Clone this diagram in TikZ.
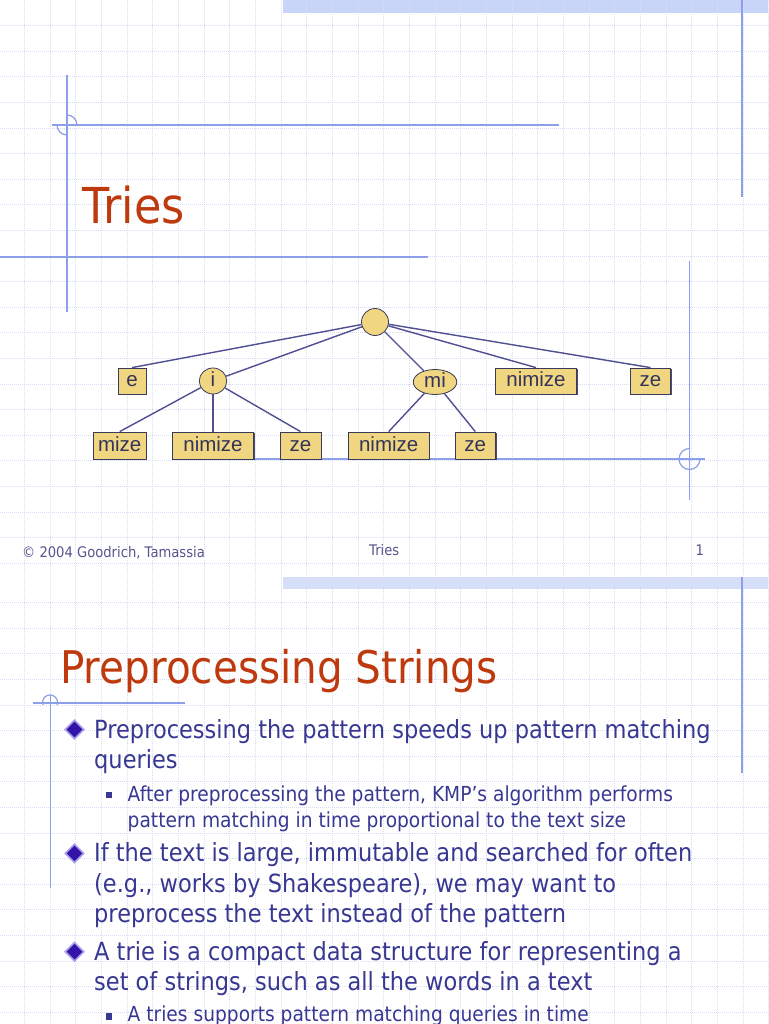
\documentclass[tikz,border=0pt]{standalone}
\usepackage{fontspec}
\setmainfont[FakeStretch=0.9]{DejaVu Sans}
\newfontfamily\treefont{Liberation Sans}
\usetikzlibrary{shapes.geometric,shadows}
\definecolor{gridc}{HTML}{D6DCF4}
\definecolor{decoc}{HTML}{8C9FE8}
\definecolor{barc}{HTML}{C9D5F8}
\definecolor{bartwo}{HTML}{D6DEF8}
\definecolor{titlec}{HTML}{BE3A0E}
\definecolor{bodyc}{HTML}{383892}
\definecolor{footc}{HTML}{55558E}
\definecolor{nodefill}{HTML}{F0D680}
\definecolor{nodeline}{HTML}{3A3A5C}
\definecolor{edgec}{HTML}{4F4F92}
\definecolor{treetext}{HTML}{34345A}
\definecolor{bulletc}{HTML}{3414A8}
\definecolor{bulletedge}{HTML}{A99EEA}
\tikzset{
  gridline/.style={gridc, line width=0.7pt, dash pattern=on 1pt off 1pt},
  deco/.style={decoc, line width=1.2pt},
  decothick/.style={decoc, line width=2pt},
  trieleaf/.style={rectangle, fill=nodefill, draw=nodeline, line width=0.8pt,
    inner sep=0pt, text height=14pt, text depth=2.5pt,
    font=\treefont\fontsize{20.5}{20}\selectfont, text=treetext,
    drop shadow={shadow xshift=1.2pt, shadow yshift=-1.2pt, fill=nodeline, opacity=0.9}},
  trieint/.style={ellipse, fill=nodefill, draw=nodeline, line width=0.8pt,
    inner sep=0pt, text height=14pt, text depth=2.5pt,
    font=\treefont\fontsize{20.5}{20}\selectfont, text=treetext},
  trieedge/.style={edgec, line width=1.4pt},
  slidetitle/.style={anchor=base west, text=titlec, font=\fontsize{45}{50}\selectfont, inner sep=0pt},
  bodyline/.style={anchor=base west, text=bodyc, font=\fontsize{25}{30}\selectfont, inner sep=0pt},
  subline/.style={anchor=base west, text=bodyc, font=\fontsize{20.7}{26}\selectfont, inner sep=0pt},
  foot/.style={anchor=base west, text=footc, font=\fontsize{14.6}{16}\selectfont, inner sep=0pt},
  bulletd/.style={diamond, fill=bulletc, draw=bulletedge, line width=1.6pt, minimum size=19pt, inner sep=0pt},
  bulletsq/.style={rectangle, fill=bodyc, minimum size=6.5pt, inner sep=0pt},
}
\begin{document}
\begin{tikzpicture}[x=1pt,y=-1pt]
\useasboundingbox (0,0) rectangle (768,1024);
\fill[white] (0,0) rectangle (768,1024);
% top bars
\fill[barc] (283,0) rectangle (768,12.7);
\fill[bartwo] (283,577) rectangle (768,589);
% grid
\foreach \k in {1,...,30} {
  \draw[gridline] ({25.67*\k-1.4},0) -- ({25.67*\k-1.4},576);
  \draw[gridline] ({25.67*\k-1.4},577) -- ({25.67*\k-1.4},1024);
}
\foreach \k in {1,...,22} \draw[gridline] (0,{25.6*\k}) -- (768,{25.6*\k});
\foreach \k in {1,...,17} \draw[gridline] (0,{577+25.6*\k}) -- (768,{577+25.6*\k});
% slide 1 decorations
\draw[deco] (742,0) -- (742,197);
\draw[decothick] (52,125) -- (559,125);
\draw[deco] (67,75) -- (67,312);
\draw[deco] (77,125) arc[start angle=0, end angle=-90, radius=10];
\draw[deco] (57,125) arc[start angle=180, end angle=90, radius=10];
\draw[decothick] (0,257) -- (428,257);
\draw[deco] (689.5,261) -- (689.5,500);
\draw[decothick] (175,459) -- (705,459);
\draw[deco] (689.5,448.5) arc[start angle=-90, end angle=-360, radius=10.5];
% slide 2 decorations
\draw[deco] (742,577) -- (742,773);
\draw[decothick] (33,702.5) -- (185,702.5);
\draw[deco] (50.5,695) -- (50.5,888);
\draw[deco] (43,705) arc[start angle=160, end angle=380, radius=7.5];
% slide 1 title
\node[slidetitle, font=\fontsize{49.5}{54}\selectfont] (t1) at (82.5,223.3) {Tries};
% tree
\node[trieint, minimum width=27pt, minimum height=27pt] (root) at (375,322) {};
\node[trieleaf, minimum width=28pt, minimum height=26pt] (e) at (132,381) {e};
\node[trieint, minimum width=27.5pt, minimum height=26pt] (i) at (213,381) {i};
\node[trieint, minimum width=43.5pt, minimum height=25pt] (mi) at (435,382) {mi};
\node[trieleaf, minimum width=81pt, minimum height=26pt] (n1) at (536,381) {nimize};
\node[trieleaf, minimum width=40.5pt, minimum height=26pt] (z1) at (650.5,381) {ze};
\node[trieleaf, minimum width=53pt, minimum height=27pt] (mize) at (119.7,445.5) {mize};
\node[trieleaf, minimum width=80.6pt, minimum height=27pt] (n2) at (213,445.5) {nimize};
\node[trieleaf, minimum width=41pt, minimum height=27pt] (z2) at (300.5,445.5) {ze};
\node[trieleaf, minimum width=80.7pt, minimum height=27pt] (n3) at (388.7,445.5) {nimize};
\node[trieleaf, minimum width=40.7pt, minimum height=27pt] (z3) at (475.3,445.5) {ze};
\draw[trieedge] (root) -- (e.north);
\draw[trieedge] (root) -- (i);
\draw[trieedge] (root) -- (mi);
\draw[trieedge] (root) -- (n1.north);
\draw[trieedge] (root) -- (z1.north);
\draw[trieedge] (i) -- (mize.north);
\draw[trieedge] (i) -- (n2.north);
\draw[trieedge] (i) -- (z2.north);
\draw[trieedge] (mi) -- (n3.north);
\draw[trieedge] (mi) -- (z3.north);
% footer
\node[foot] (f1) at (22,557.5) {© 2004 Goodrich, Tamassia};
\node[foot] (f2) at (369,555.5) {Tries};
\node[foot] (f3) at (695.5,555.5) {1};
% slide 2
\node[slidetitle] (t2) at (60,683.3) {Preprocessing Strings};
\node[bulletd] (b1) at (74.5,729.5) {};
\node[bulletd] (b2) at (74.5,853.3) {};
\node[bulletd] (b3) at (74.5,951.7) {};
\node[bulletsq] (s1) at (109,795) {};
\node[bulletsq] (s2) at (109,1016.7) {};
\node[bodyline] (l1) at (94,738.3) {Preprocessing the pattern speeds up pattern matching};
\node[bodyline] (l2) at (94,768.3) {queries};
\node[subline] (l3) at (127.5,801.7) {After preprocessing the pattern, KMP’s algorithm performs};
\node[subline] (l4) at (127.5,827) {pattern matching in time proportional to the text size};
\node[bodyline] (l5) at (94,861.7) {If the text is large, immutable and searched for often};
\node[bodyline] (l6) at (94,892.3) {(e.g., works by Shakespeare), we may want to};
\node[bodyline] (l7) at (94,922.7) {preprocess the text instead of the pattern};
\node[bodyline] (l8) at (94,960.7) {A trie is a compact data structure for representing a};
\node[bodyline] (l9) at (94,990.7) {set of strings, such as all the words in a text};
\node[subline] (l10) at (127.5,1021.7) {A tries supports pattern matching queries in time};
\end{tikzpicture}
\end{document}
